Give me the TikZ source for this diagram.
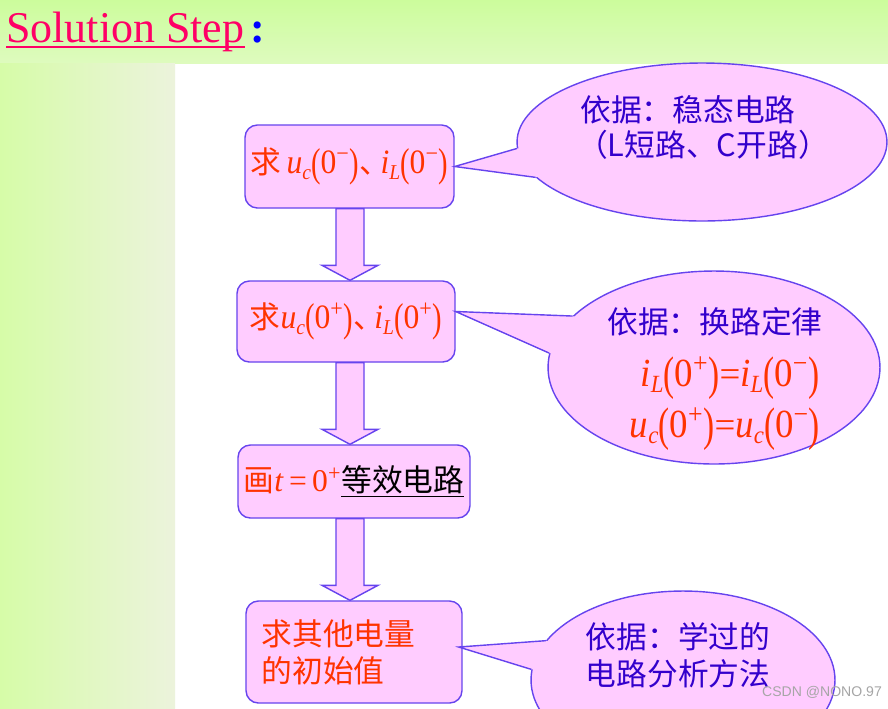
\documentclass[tikz,border=0pt]{standalone}
\usepackage{fontspec}
\setmainfont{Liberation Serif}
\newfontfamily\cjk{Noto Sans CJK SC}
\newfontfamily\wmfont{Liberation Sans}
\usepackage{graphicx}
\usetikzlibrary{calc,shapes.geometric}
\definecolor{bandgreen}{RGB}{204,252,156}
\definecolor{palegreen}{RGB}{222,251,190}
\definecolor{stripgreen}{RGB}{214,252,168}
\definecolor{stripwhite}{RGB}{236,243,220}
\definecolor{boxpink}{RGB}{255,204,255}
\definecolor{edgeblue}{RGB}{102,68,238}
\definecolor{stepred}{RGB}{255,51,0}
\definecolor{notesblue}{RGB}{51,0,204}
\definecolor{titlered}{RGB}{255,0,102}
\definecolor{colonblue}{RGB}{0,0,255}

\newcommand{\zh}[1]{{\cjk\fontsize{17.5}{21}\selectfont #1}}
\newcommand{\tallpar}[1]{\raisebox{-0.08em}{\scalebox{0.9}[1.18]{#1}}}
\newcommand{\qv}[3]{\scalebox{1}[1.08]{\textit{#1}\raisebox{-0.35ex}{\scalebox{0.62}{\textit{#2}}}\tallpar{(}0\textsuperscript{#3}\tallpar{)}}}

\begin{document}
\begin{tikzpicture}[
    x=0.02cm, y=-0.02cm,
    box/.style={
      draw=edgeblue, fill=boxpink, line width=0.8pt, rounded corners=7pt,
      inner sep=0pt, text=stepred, font=\fontsize{18}{22}\selectfont
    },
    bubble/.style={ellipse, draw=edgeblue, fill=boxpink, line width=0.8pt,
                   inner sep=0pt},
    pointer/.style={draw=edgeblue, line width=0.8pt},
    blockarr/.style={draw=edgeblue, fill=boxpink, line width=0.8pt,
                     line join=miter},
    note/.style={text=notesblue, inner sep=0pt,
                 font=\cjk\fontsize{17.5}{21}\selectfont},
    eqn/.style={text=stepred, inner sep=0pt, font=\fontsize{21}{24}\selectfont},
  ]
  \useasboundingbox (0,0) rectangle (888,708);
  \clip (0,0) rectangle (888,708);

  % --- background ---
  \fill[white] (0,0) rectangle (888,708);
  \shade[top color=bandgreen, bottom color=palegreen] (0,0) rectangle (888,63);
  \shade[left color=stripgreen, right color=stripwhite] (0,63) rectangle (175,708);

  % --- title ---
  \node[inner sep=0pt, anchor=base west, text=titlered,
        font=\fontsize{25}{30}\selectfont] (title) at (6,42) {Solution Step};
  \draw[titlered, line width=1.6pt]
    ($(title.base west)+(0,5)$) -- ($(title.base east)+(0,5)$);
  \node[inner sep=0pt, anchor=base west, text=colonblue,
        font=\bfseries\fontsize{25}{30}\selectfont] (colon)
    at ($(title.base east)+(5,0)$) {:};

  % --- step boxes ---
  \node[box, minimum width=4.18cm, minimum height=1.66cm] (b1) at (349.5,166.5)
    {\zh{求}\,\qv{u}{c}{−}\zh{、}\kern-0.3em\qv{i}{L}{−}};
  \node[box, minimum width=4.36cm, minimum height=1.62cm] (b2) at (346,321.5)
    {\zh{求}\qv{u}{c}{+}\zh{、}\kern-0.3em\qv{i}{L}{+}};
  \node[box, minimum width=4.64cm, minimum height=1.46cm] (b3) at (354,481.5)
    {\zh{画}\textit{t}\,=\,0\textsuperscript{+}{\color{black}\underline{\zh{等效电路}}}};
  \node[box, minimum width=4.32cm, minimum height=2.04cm, align=left,
        text width=3.7cm, font=\cjk\fontsize{17.5}{21}\selectfont] (b4)
    at (354,652) {求其他电量\\的初始值};

  % Arrows between steps
  \coordinate (ax) at (350,0);
  \foreach \a/\b in {b1/b2, b2/b3, b3/b4}
    \draw[blockarr] ($(\a.south -| ax)+(-14,0)$) -- ($(\b.north -| ax)+(-14,-15)$)
      -- ($(\b.north -| ax)+(-28,-15)$) -- (\b.north -| ax)
      -- ($(\b.north -| ax)+(28,-15)$) -- ($(\b.north -| ax)+(14,-15)$)
      -- ($(\a.south -| ax)+(14,0)$) -- cycle;

  % --- callouts ---
  \node[bubble, minimum width=7.4cm, minimum height=3.16cm] (e1) at (702,142) {};
  \node[bubble, minimum width=6.64cm, minimum height=3.86cm] (e2) at (714,367.5) {};
  \node[bubble, minimum width=6.08cm, minimum height=3.56cm] (e3) at (683,680) {};

  \coordinate (tip1) at (b1.east);
  \coordinate (tip2) at ($(b2.east)+(0,-10)$);
  \coordinate (tip3) at ($(b4.east)+(-4,-5)$);
  \foreach \e/\p/\u/\l in {e1/tip1/182/192, e2/tip2/160/175, e3/tip3/164/176} {
    \fill[boxpink] (\p) -- (\e.\u) -- (\e.center) -- (\e.\l) -- cycle;
    \draw[pointer] (\e.\u) -- (\p) -- (\e.\l);
  }

  \node[note] (t1a) at (688,110) {依据：稳态电路};
  \node[note] (t1b) at (703,145) {（L短路、C开路）};
  \node[note] (t2a) at (715,322) {依据：换路定律};
  \node[eqn] (t2b) at (730,378) {\qv{i}{L}{+}=\qv{i}{L}{−}};
  \node[eqn] (t2c) at (725,429) {\qv{u}{c}{+}=\qv{u}{c}{−}};
  \node[note, align=left] (t3) at (678,655) {依据：学过的\\电路分析方法};

  % watermark
  \node[text=gray!70, font=\wmfont\fontsize{8}{9}\selectfont] (wm) at (822,692)
    {CSDN @NONO.97};
\end{tikzpicture}
\end{document}
